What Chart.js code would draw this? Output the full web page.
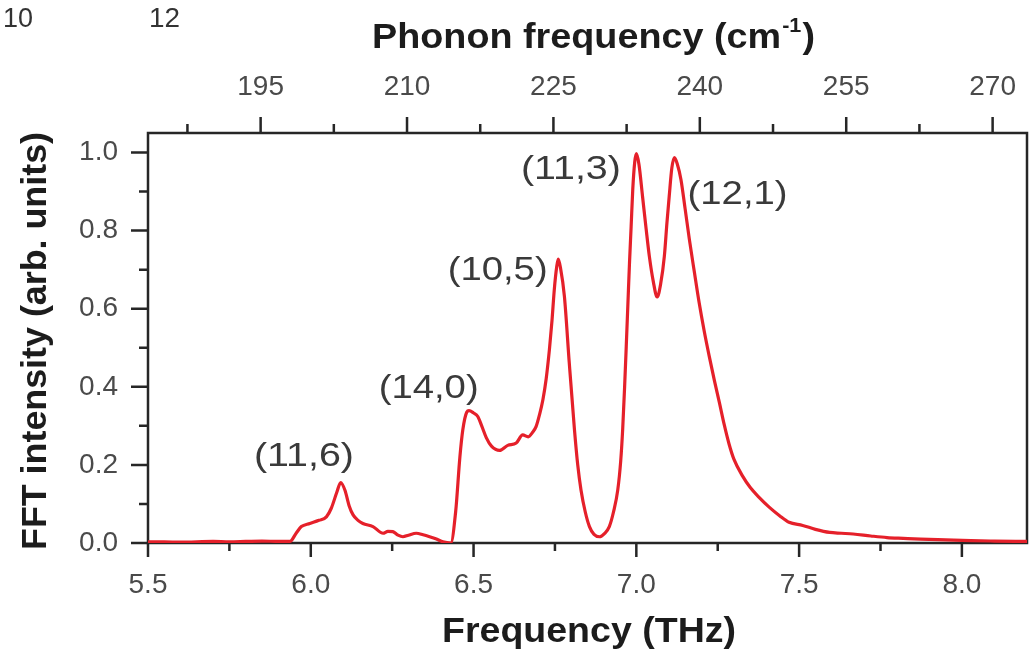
<!DOCTYPE html>
<html><head><meta charset="utf-8">
<script src="https://cdn.jsdelivr.net/npm/chart.js@4.4.1/dist/chart.umd.min.js"></script>
<style>html,body{margin:0;padding:0;background:#fff;}#wrap{width:1029px;height:652px;}</style>
</head><body><div id="wrap"><canvas id="c" width="1029" height="652"></canvas></div>
<script>
// ---- data ----
const freqTHz = [5.50,5.55,5.60,5.65,5.70,5.75,5.80,5.85,5.90,5.936,5.955,5.971,5.997,6.025,6.048,6.063,6.080,6.092,6.105,6.118,6.130,6.145,6.160,6.191,6.222,6.237,6.252,6.268,6.283,6.300,6.324,6.345,6.365,6.386,6.406,6.430,6.445,6.458,6.467,6.479,6.486,6.500,6.513,6.525,6.539,6.555,6.580,6.605,6.631,6.651,6.668,6.680,6.692,6.703,6.713,6.723,6.733,6.741,6.748,6.755,6.760,6.767,6.779,6.794,6.810,6.820,6.830,6.843,6.856,6.870,6.887,6.902,6.917,6.930,6.943,6.952,6.958,6.964,6.969,6.974,6.979,6.984,6.989,6.995,7.000,7.008,7.019,7.030,7.040,7.052,7.064,7.075,7.086,7.094,7.101,7.109,7.117,7.126,7.137,7.150,7.163,7.178,7.193,7.208,7.224,7.240,7.255,7.270,7.285,7.300,7.326,7.350,7.377,7.408,7.440,7.469,7.511,7.550,7.594,7.630,7.666,7.720,7.770,7.820,7.873,7.950,8.028,8.100,8.200];
const intensity = [0.003,0.003,0.002,0.003,0.004,0.003,0.004,0.005,0.004,0.004,0.025,0.042,0.050,0.058,0.067,0.089,0.130,0.155,0.135,0.095,0.072,0.058,0.050,0.042,0.025,0.030,0.029,0.020,0.016,0.020,0.025,0.021,0.016,0.010,0.003,0.000,0.080,0.220,0.290,0.335,0.339,0.333,0.324,0.300,0.270,0.248,0.237,0.250,0.256,0.277,0.272,0.282,0.298,0.330,0.367,0.420,0.495,0.570,0.649,0.705,0.727,0.705,0.632,0.461,0.290,0.200,0.136,0.080,0.042,0.022,0.016,0.024,0.042,0.080,0.136,0.210,0.290,0.400,0.503,0.610,0.717,0.810,0.905,0.975,0.997,0.970,0.888,0.805,0.734,0.670,0.630,0.665,0.734,0.820,0.888,0.960,0.987,0.970,0.931,0.855,0.777,0.695,0.615,0.545,0.478,0.415,0.360,0.303,0.253,0.214,0.172,0.142,0.117,0.092,0.070,0.053,0.045,0.035,0.027,0.025,0.023,0.018,0.014,0.012,0.010,0.008,0.006,0.005,0.004];
const xTickValues = [5.5,6.0,6.5,7.0,7.5,8.0];
const yTickValues = [0.0,0.2,0.4,0.6,0.8,1.0];
const topTickValues = [195,210,225,240,255,270];
const peakLabels = ['(11,6)','(14,0)','(10,5)','(11,3)','(12,1)'];
const peakLabelX = [5.979,6.362,6.574,6.799,7.311];
const peakLabelY = [0.228,0.402,0.704,0.963,0.899];
const THZ_TO_CM = 33.35641;
const X_MIN = 5.5, X_MAX = 8.2, Y_MIN = 0, Y_MAX = 1.05;

const points = freqTHz.map((f,i)=>({x:f,y:intensity[i]}));
const FONT = '"Liberation Sans", Arial, sans-serif';

function mids(arr, step, lo, hi){
  const out=[]; for(let i=0;i<arr.length;i++){ const a=arr[i]-step/2, b=arr[i]+step/2;
    if(a>=lo && !out.includes(a)) out.push(a); if(b<=hi && !out.includes(b)) out.push(b);} return out;
}

function drawScaled(ctx, text, x, y, font, targetW, color, align){
  ctx.save(); ctx.font = font; ctx.fillStyle = color; ctx.textBaseline='alphabetic';
  const w = ctx.measureText(text).width; const s = targetW ? targetW/w : 1;
  let left = x; if(align==='center') left = x - w*s/2;
  ctx.translate(left, y); ctx.scale(s,1); ctx.textAlign='left'; ctx.fillText(text,0,0); ctx.restore();
}

const framePlugin = {
  id:'frame',
  beforeDatasetsDraw(chart){
    const {ctx, chartArea:a, scales} = chart;
    ctx.save();
    ctx.strokeStyle='#262626'; ctx.lineWidth=2.5; ctx.lineCap='butt';
    ctx.strokeRect(a.left, a.top, a.right-a.left, a.bottom-a.top);
    const MJ=15, MN=9;
    ctx.beginPath();
    yTickValues.forEach(v=>{const y=scales.y.getPixelForValue(v); ctx.moveTo(a.left-MJ-2,y); ctx.lineTo(a.left,y);});
    mids(yTickValues,0.2,Y_MIN,Y_MAX).forEach(v=>{const y=scales.y.getPixelForValue(v); ctx.moveTo(a.left-MN,y); ctx.lineTo(a.left,y);});
    xTickValues.forEach(v=>{const x=scales.x.getPixelForValue(v); ctx.moveTo(x,a.bottom); ctx.lineTo(x,a.bottom+MJ-1);});
    mids(xTickValues,0.5,X_MIN,X_MAX).forEach(v=>{const x=scales.x.getPixelForValue(v); ctx.moveTo(x,a.bottom); ctx.lineTo(x,a.bottom+MN-1);});
    topTickValues.forEach(v=>{const x=scales.x2.getPixelForValue(v); ctx.moveTo(x,a.top); ctx.lineTo(x,a.top-MJ-1);});
    mids(topTickValues,15,X_MIN*THZ_TO_CM,X_MAX*THZ_TO_CM).forEach(v=>{const x=scales.x2.getPixelForValue(v); ctx.moveTo(x,a.top); ctx.lineTo(x,a.top-MN);});
    ctx.stroke();
    ctx.restore();
  },
  afterDraw(chart){
    const {ctx, scales} = chart;
    drawScaled(ctx,'Frequency (THz)',589,642,'bold 35px '+FONT,294,'#1c1c1c','center');
    ctx.save();
    const f1='bold 35px '+FONT, f2='bold 20px '+FONT;
    ctx.font=f1; const wA=ctx.measureText('Phonon frequency (cm').width, wC=ctx.measureText(')').width;
    ctx.font=f2; const wB=ctx.measureText('-1').width;
    const total=wA+wB+wC+2, target=443, s=target/total;
    ctx.translate(372,48); ctx.scale(s,1); ctx.fillStyle='#1c1c1c'; ctx.textAlign='left'; ctx.textBaseline='alphabetic';
    ctx.font=f1; ctx.fillText('Phonon frequency (cm',0,0);
    ctx.font=f2; ctx.fillText('-1',wA+1,-16);
    ctx.font=f1; ctx.fillText(')',wA+wB+2,0);
    ctx.restore();
    ctx.save(); ctx.translate(46,341); ctx.rotate(-Math.PI/2);
    drawScaled(ctx,'FFT intensity (arb. units)',0,0,'bold 35px '+FONT,418,'#1c1c1c','center');
    ctx.restore();
    peakLabels.forEach((t,i)=>{
      const x=scales.x.getPixelForValue(peakLabelX[i]); const y=scales.y.getPixelForValue(peakLabelY[i]);
      drawScaled(ctx,t,x,y+12,'33px '+FONT,100,'#3a3a3a','center');
    });
    drawScaled(ctx,'10',3,27,'27px '+FONT,30,'#333','left');
    drawScaled(ctx,'12',149,27,'27px '+FONT,31,'#333','left');
  }
};

const tickFont = {family:FONT, size:28, lineHeight:1.2};
const zeroPad = s=>{s.paddingLeft=0; s.paddingRight=0; s.paddingTop=0; s.paddingBottom=0;};
new Chart(document.getElementById('c'), {
  type:'line',
  data:{datasets:[{data:points, borderColor:'#e5202a', borderWidth:3.2, pointRadius:0, fill:false, cubicInterpolationMode:'monotone', xAxisID:'x', yAxisID:'y'}]},
  options:{
    responsive:false, animation:false, devicePixelRatio:1,
    layout:{padding:{left:0,right:2,top:0,bottom:0}},
    plugins:{legend:{display:false}, tooltip:{enabled:false}},
    scales:{
      x:{type:'linear', position:'bottom', min:X_MIN, max:X_MAX,
         afterBuildTicks:s=>{s.ticks=xTickValues.map(v=>({value:v}));},
         afterFit:s=>{s.height=109; zeroPad(s);},
         grid:{display:false, drawTicks:false, tickLength:0}, border:{display:false},
         ticks:{font:tickFont, color:'#4a4a4a', padding:25, maxRotation:0, autoSkip:false, callback:v=>v.toFixed(1)}},
      x2:{type:'linear', position:'top', min:X_MIN*THZ_TO_CM, max:X_MAX*THZ_TO_CM,
         afterBuildTicks:s=>{s.ticks=topTickValues.map(v=>({value:v}));},
         afterFit:s=>{s.height=133; zeroPad(s);},
         grid:{display:false, drawTicks:false, tickLength:0}, border:{display:false},
         ticks:{font:tickFont, color:'#4a4a4a', padding:29, maxRotation:0, autoSkip:false, callback:v=>String(v)}},
      y:{type:'linear', position:'left', min:Y_MIN, max:Y_MAX,
         afterBuildTicks:s=>{s.ticks=yTickValues.map(v=>({value:v}));},
         afterFit:s=>{s.width=148; zeroPad(s);},
         grid:{display:false, drawTicks:false, tickLength:0}, border:{display:false},
         ticks:{font:tickFont, color:'#4a4a4a', padding:30, autoSkip:false, callback:v=>v.toFixed(1)}}
    }
  },
  plugins:[framePlugin]
});
</script></body></html>
